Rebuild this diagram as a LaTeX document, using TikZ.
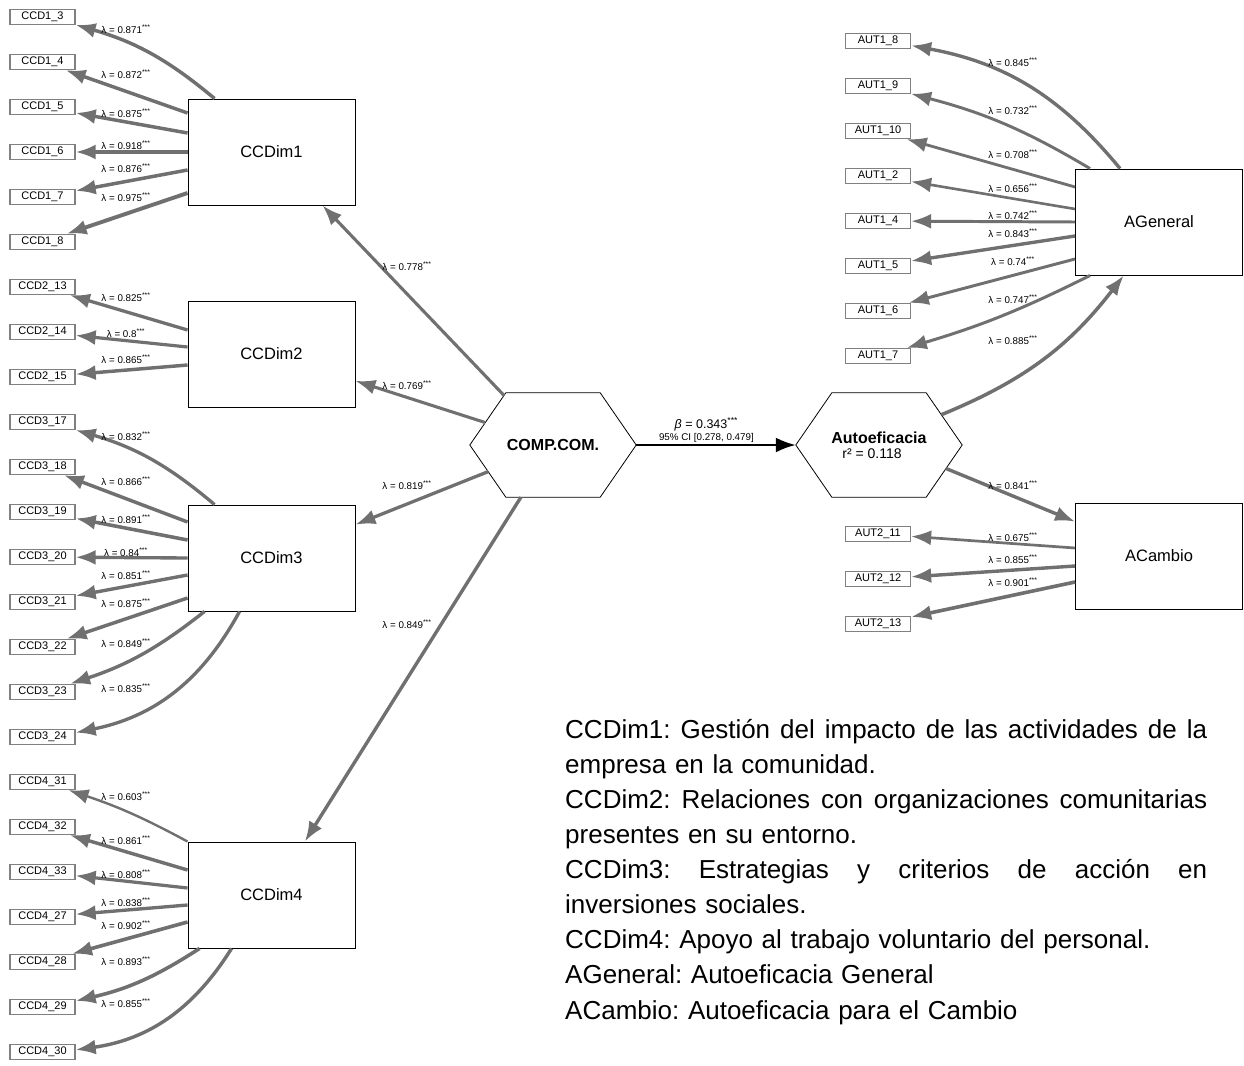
\documentclass[tikz,border=0pt]{standalone}
\usepackage{fontspec}
\setmainfont{Liberation Sans}
\usetikzlibrary{arrows.meta,positioning,calc}
\definecolor{pathgray}{RGB}{112,112,112}
\definecolor{boxgray}{RGB}{128,128,128}
% 兩端對齊的一行
\newcommand{\fullline}[1]{\leavevmode\hbox to 642pt{\spaceskip=0.278em plus 1fil\relax #1}}

\begin{document}
\begin{tikzpicture}[
    % 定義樣式
    x=1pt, y=-1pt,
    >={Latex[length=20pt,width=15pt]},
    load/.style={->, draw=pathgray},
    indicator/.style={rectangle, draw=boxgray, line width=1.3pt, fill=white,
        minimum width=65pt, minimum height=15pt, inner sep=0pt,
        font=\fontsize{11}{11}\selectfont},
    latent/.style={rectangle, draw, line width=0.9pt, fill=white,
        minimum width=167pt, minimum height=106pt,
        font=\fontsize{16.5}{18}\selectfont},
    hexbox/.style={minimum width=166pt, minimum height=104pt, inner sep=0pt},
    lam/.style={inner sep=0pt, font=\fontsize{9.8}{10}\selectfont},
    legend/.style={anchor=north west, inner sep=0pt, text width=642pt, align=left,
        font=\fontsize{26}{35.1}\selectfont}
]

    \useasboundingbox (0,0) rectangle (1244,1065);

    % --- 1. 左側指標 ---
    \foreach \grp/\itm [count=\row from 0] in {1/3,1/4,1/5,1/6,1/7,1/8,2/13,2/14,2/15,
        3/17,3/18,3/19,3/20,3/21,3/22,3/23,3/24,4/31,4/32,4/33,4/27,4/28,4/29,4/30}
        \node[indicator] (CCD\grp-\itm) at (42.5,17+45*\row) {CCD\grp\_\itm};

    % --- 2. 右側指標 ---
    \foreach \grp/\itm/\y in {1/8/41,1/9/86,1/10/131,1/2/176,1/4/221,1/5/266,1/6/311,1/7/356,
        2/11/534,2/12/579,2/13/624}
        \node[indicator] (AUT\grp-\itm) at (878,\y) {AUT\grp\_\itm};

    % --- 3. 潛在變數 ---
    \node[latent] (CCDim1) at (271.5,152) {CCDim1};
    \node[latent] (CCDim2) at (271.5,354) {CCDim2};
    \node[latent] (CCDim3) at (271.5,558) {CCDim3};
    \node[latent] (CCDim4) at (271.5,895) {CCDim4};
    \node[latent] (AGeneral) at (1159,222) {AGeneral};
    \node[latent] (ACambio) at (1159,556) {ACambio};

    \node[hexbox, font=\fontsize{16}{18}\selectfont\bfseries] (COMP) at (553,445) {COMP.COM.};
    \node[hexbox, align=center, font=\fontsize{16}{15}\selectfont] (AUTO) at (879,445)
        {\textbf{Autoeficacia}\\{\fontsize{14}{14}\selectfont r² = 0.118\hspace*{14pt}}};

    % 六角形外框
    \foreach \h in {COMP,AUTO}
        \draw[line width=0.8pt] (\h.west) -- ([xshift=36pt]\h.north west) coordinate (\h-nw)
            -- ([xshift=-36pt]\h.north east) coordinate (\h-ne) -- (\h.east)
            -- ([xshift=-36pt]\h.south east) coordinate (\h-se)
            -- ([xshift=36pt]\h.south west) coordinate (\h-sw) -- cycle;

    % --- 4. 結構路徑 ---
    \foreach \dst/\pa/\f/\pb/\ld/\ly in {1/COMP.west/0.95/COMP-nw/0.778/266,
        2/COMP-nw/0.57/COMP.west/0.769/385, 3/COMP.west/0.51/COMP-sw/0.819/485,
        4/COMP-sw/0.16/COMP-se/0.849/624}
    {
        \draw[load, line width=\ld*4pt] ($(\pa)!\f!(\pb)$) -- (CCDim\dst);
        \node[lam] (lam-CCDim\dst) at (407,\ly) {λ = \ld\textsuperscript{***}};
    }

    \draw[->, line width=2.6pt] (COMP.east) -- (AUTO.west)
        node[pos=0.44, above=1pt, align=center, inner sep=0pt,
            font=\fontsize{12.5}{12.5}\selectfont] (beta)
        {\textit{β} = 0.343\textsuperscript{***}\\{\fontsize{9.8}{10}\selectfont 95\% CI [0.278, 0.479]}};

    \draw[load, line width=3.5pt] ($(AUTO-ne)!0.42!(AUTO.east)$) to[bend right=15] (AGeneral);
    \node[lam] (lam-AGeneral) at (1013,340) {λ = 0.885\textsuperscript{***}};
    \draw[load, line width=3.4pt] ($(AUTO.east)!0.45!(AUTO-se)$) -- (ACambio);
    \node[lam] (lam-ACambio) at (1013,485) {λ = 0.841\textsuperscript{***}};

    % --- 5. 因素負荷量 (左) ---
    \foreach \grp/\itm/\sx/\sy/\anc/\bnd/\ld/\ly in {
        1/3/27/0/north west/-12/0.871/29, 1/4/0/39/west/0/0.872/74,
        1/5/0/19/west/0/0.875/113, 1/6/0/0/west/0/0.918/145,
        1/7/0/-18/west/0/0.876/168, 1/8/0/-41/west/0/0.975/197,
        2/13/0/24/west/0/0.825/297, 2/14/0/7/west/0/0.8/333,
        2/15/0/-11/west/0/0.865/359,
        3/17/27/0/north west/-12/0.832/436, 3/18/0/36/west/0/0.866/481,
        3/19/0/18/west/0/0.891/519, 3/20/0/0/west/0/0.84/552,
        3/21/0/-17/west/0/0.851/575, 3/22/0/-40/west/0/0.875/603,
        3/23/17/0/south west/10/0.849/643, 3/24/52/0/south west/25/0.835/688,
        4/31/0/0/north west/-5/0.603/796, 4/32/0/25/west/0/0.861/840,
        4/33/0/7/west/0/0.808/874, 4/27/0/-10/west/0/0.838/902,
        4/28/0/-27/west/0/0.902/925, 4/29/12/0/south west/10/0.893/961,
        4/30/44/0/south west/25/0.855/1003}
    {
        \draw[load, line width=\ld*4pt] ([xshift=\sx, yshift=\sy]CCDim\grp.\anc)
            to[bend left=\bnd] (CCD\grp-\itm);
        \node[lam] (lam-CCD\grp-\itm) at (126,\ly) {λ = \ld\textsuperscript{***}};
    }

    % --- 6. 因素負荷量 (右) ---
    \foreach \itm/\sx/\sy/\anc/\bnd/\ld/\ly in {
        8/45/0/north west/-20/0.845/62, 9/15/0/north west/-8/0.732/110,
        10/0/35/west/0/0.708/154, 2/0/13/west/0/0.656/188,
        4/0/0/west/0/0.742/215, 5/0/-14/west/0/0.843/233,
        6/0/-37/west/0/0.74/261, 7/15/0/south west/5/0.747/299}
    {
        \draw[load, line width=\ld*4pt] ([xshift=\sx, yshift=\sy]AGeneral.\anc)
            to[bend left=\bnd] (AUT1-\itm);
        \node[lam] (lam-AUT1-\itm) at (1013,\ly) {λ = \ld\textsuperscript{***}};
    }
    \foreach \itm/\sy/\ld/\ly in {11/8/0.675/537, 12/-10/0.855/559, 13/-26/0.901/582}
    {
        \draw[load, line width=\ld*4pt] ([yshift=\sy]ACambio.west) -- (AUT2-\itm);
        \node[lam] (lam-AUT2-\itm) at (1013,\ly) {λ = \ld\textsuperscript{***}};
    }

    % --- 7. 說明文字 ---
    \node[legend] (notes) at (565,713.5) {\frenchspacing
        \fullline{\strut CCDim1: Gestión del impacto de las actividades de la}\\
        empresa en la comunidad.\\
        \fullline{CCDim2: Relaciones con organizaciones comunitarias}\\
        presentes en su entorno.\\
        \fullline{CCDim3: Estrategias y criterios de acción en}\\
        inversiones sociales.\\
        CCDim4: Apoyo al trabajo voluntario del personal.\\
        AGeneral: Autoeficacia General\\
        ACambio: Autoeficacia para el Cambio};

\end{tikzpicture}
\end{document}
